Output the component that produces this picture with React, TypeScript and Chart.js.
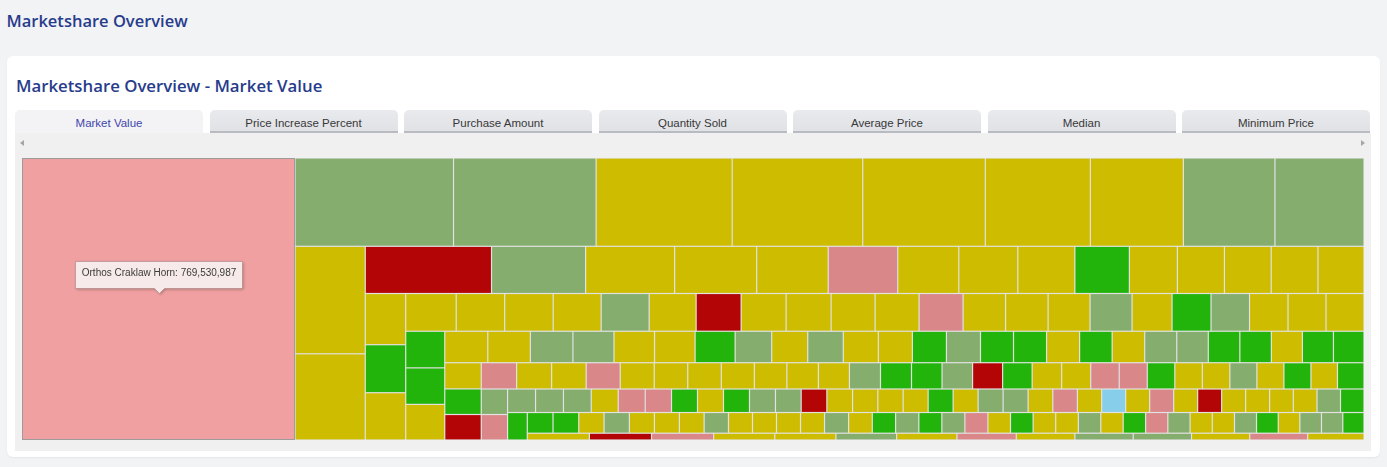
import React, { useEffect, useRef } from "react";
import { Chart, registerables } from "chart.js";

Chart.register(...registerables);

const PAGE_TITLE = "Marketshare Overview";
const CARD_TITLE = "Marketshare Overview - Market Value";
const TAB_LABELS = [
  "Market Value",
  "Price Increase Percent",
  "Purchase Amount",
  "Quantity Sold",
  "Average Price",
  "Median",
  "Minimum Price",
];
const ACTIVE_TAB = 0;
const HOVERED_INDEX = 0;
const HOVERED_NAME = "Orthos Craklaw Horn";

// Market value per item (sorted, largest first)
const marketValues: number[] = [
  769530987,
  139867000, 125828000, 120088000, 115232000, 108168000, 92715000, 82119000, 80795000, 78587000,
  75465000, 60512000,
  59566000, 44368000, 42008000, 38704000, 33748000, 32804000, 28792000, 27848000, 26904000, 25724000,
  22656000, 22184000, 22066000, 22066000, 21712000,
  20685000, 19392000, 19109000,
  19039000, 18285000, 18285000, 18096000, 18096000, 17719000, 16965000, 16965000, 16965000, 16588000,
  16588000, 16588000, 16023000, 16023000, 15834000, 15834000, 15080000, 14703000, 14515000, 14515000,
  14326000, 14326000,
  14300000, 14250000, 13900000,
  13545000, 13388000, 13388000, 12915000, 12758000, 12758000, 12600000, 11498000, 11340000, 11183000,
  11025000, 10710000, 10710000, 10710000, 10395000, 10395000, 10395000, 10238000, 10238000, 10080000,
  9923000, 9923000, 9923000, 9765000, 9765000, 9608000,
  9550000, 9350000, 9300000,
  9284000, 9205000, 9074000, 8942000, 8942000, 8811000, 8811000, 8679000, 8548000, 8285000,
  8153000, 8153000, 8153000, 8022000, 8022000, 7890000, 7759000, 7759000, 7627000, 7496000,
  7364000, 7233000, 7233000, 7233000, 7101000, 7101000, 7101000, 6970000, 6970000,
  6710000, 6700000,
  6580000, 6557000, 6533000, 6345000, 6345000, 6181000, 6110000, 6110000, 6110000, 6110000,
  6040000, 6040000, 6040000, 5946000, 5946000, 5875000, 5875000, 5875000, 5875000, 5875000,
  5805000, 5781000, 5711000, 5640000, 5640000, 5640000, 5640000, 5640000, 5640000, 5640000,
  5570000, 5570000, 5523000, 5523000,
  5418000,
  5320000, 5320000, 5237000, 5237000, 5175000, 5175000, 5113000, 5030000, 4968000, 4968000,
  4968000, 4968000, 4968000, 4906000, 4823000, 4802000, 4761000, 4761000, 4761000, 4678000,
  4678000, 4678000, 4678000, 4637000, 4637000, 4637000, 4595000, 4595000, 4595000, 4595000,
  4554000, 4492000, 4471000, 4471000, 4409000, 4388000,
  4216000,
  4216000, 4216000, 4148000, 4148000, 4121000, 4094000, 4026000, 3978000, 3958000, 3958000,
  3951000, 3930000, 3822000,
];

// Price trend class per item: Y flat, S slight rise, G strong rise, P slight fall, R strong fall, B new
const trendClasses: string[] = (
  "P" +
  "SSYYYYYSS" +
  "YY" +
  "RSYYYPYYYGYYYYY" +
  "YGY" +
  "YYYYSYRYYYYPYYYSYGSYYY" +
  "GGY" +
  "YYSSYYGSYSYYGSGGYGYSSGGYGG" +
  "YGR" +
  "PYYPYYYYYYYSGGSRGYYPPGYYSYGYG" +
  "SP" +
  "SSSYPPGYGSSRYYYYGYSSYPYBYPYRYYYYSG" +
  "G" +
  "GGYSYYYSYYYYSYGSGSPYGYYSYGPSYYSGYSSG" +
  "Y" +
  "RPYYSYPYSSYPY"
).split("");

const trendColors: Record<string, string> = {
  Y: "#cdbc00",
  S: "#84ad6e",
  G: "#22b40a",
  R: "#b30406",
  P: "#d98788",
  B: "#87ceeb",
};
const trendHoverColors: Record<string, string> = {
  Y: "#e0d240",
  S: "#a3c690",
  G: "#4ccc38",
  R: "#cc3030",
  P: "#f0a0a0",
  B: "#a8def2",
};

type Cell = { x0: number; y0: number; x1: number; y1: number };

// Squarified strips, alternating column / row, a strip grows while its newest item gets squarer
function squarify(values: number[], W: number, H: number): Cell[] {
  const order = values.map((v, i) => i).sort((a, b) => values[b] - values[a]);
  const total = values.reduce((a, b) => a + b, 0);
  const k = (W * H) / total;
  const cells: Cell[] = new Array(values.length);
  let x = 0, y = 0, w = W, h = H;
  let column = true;
  let i = 0;
  while (i < order.length) {
    const L = column ? h : w;
    let sum = 0;
    let prev = Infinity;
    let j = i;
    while (j < order.length) {
      const a = values[order[j]] * k;
      const s = sum + a;
      const t = s / L;
      const along = a / t;
      const asp = Math.max(along / t, t / along);
      if (asp > prev) break;
      prev = asp;
      sum = s;
      j++;
    }
    const t = sum / L;
    let pos = 0;
    for (let m = i; m < j; m++) {
      const along = (values[order[m]] * k) / t;
      cells[order[m]] = column
        ? { x0: x, y0: y + pos, x1: x + t, y1: y + pos + along }
        : { x0: x + pos, y0: y, x1: x + pos + along, y1: y + t };
      pos += along;
    }
    if (column) { x += t; w -= t; } else { y += t; h -= t; }
    column = !column;
    i = j;
  }
  return cells;
}

const treemapPlugin = {
  id: "treemapCells",
  afterDatasetsDraw(chart: any) {
    const { ctx, chartArea } = chart;
    const xs = chart.scales.x;
    const ys = chart.scales.y;
    const aspect = (chartArea.right - chartArea.left) / (chartArea.bottom - chartArea.top);
    const cells = squarify(marketValues, aspect, 1);
    ctx.save();
    ctx.fillStyle = "#e2e2e2";
    ctx.fillRect(chartArea.left, chartArea.top, chartArea.right - chartArea.left, chartArea.bottom - chartArea.top);
    const px = (c: Cell) => ({
      x0: xs.getPixelForValue(c.x0 / aspect),
      x1: xs.getPixelForValue(c.x1 / aspect),
      y0: ys.getPixelForValue(c.y0),
      y1: ys.getPixelForValue(c.y1),
    });
    cells.forEach((c, i) => {
      const p = px(c);
      const cls = trendClasses[i];
      const inset = 0.6;
      if (i === HOVERED_INDEX) {
        ctx.fillStyle = trendHoverColors[cls];
        ctx.fillRect(p.x0, p.y0, p.x1 - p.x0, p.y1 - p.y0);
        ctx.strokeStyle = "#9c9c9c";
        ctx.lineWidth = 1;
        ctx.strokeRect(Math.round(p.x0) + 0.5, Math.round(p.y0) + 0.5, Math.round(p.x1 - p.x0) - 1, Math.round(p.y1 - p.y0) - 1);
      } else {
        ctx.fillStyle = trendColors[cls];
        ctx.fillRect(p.x0 + inset, p.y0 + inset, p.x1 - p.x0 - 2 * inset, p.y1 - p.y0 - 2 * inset);
      }
    });

    // hover tooltip
    const hp = px(cells[HOVERED_INDEX]);
    const cx = (hp.x0 + hp.x1) / 2;
    const cy = (hp.y0 + hp.y1) / 2;
    const text = `${HOVERED_NAME}: ${marketValues[HOVERED_INDEX].toLocaleString("en-US")}`;
    ctx.font = '10px "Liberation Sans", Arial, sans-serif';
    const tw = ctx.measureText(text).width;
    const bw = Math.round(tw + 12);
    const bh = 27;
    const tipY = Math.round(cy - 6) + 0.5;
    const by1 = tipY - 5;
    const by0 = by1 - bh;
    const bx0 = Math.round(cx - bw / 2) + 0.5;
    const bx1 = bx0 + bw;
    const ax = Math.round(cx) + 0.5;
    ctx.beginPath();
    ctx.moveTo(bx0, by0);
    ctx.lineTo(bx1, by0);
    ctx.lineTo(bx1, by1);
    ctx.lineTo(ax + 5, by1);
    ctx.lineTo(ax, tipY);
    ctx.lineTo(ax - 5, by1);
    ctx.lineTo(bx0, by1);
    ctx.closePath();
    ctx.save();
    ctx.shadowColor = "rgba(0,0,0,0.28)";
    ctx.shadowBlur = 3;
    ctx.shadowOffsetX = 1;
    ctx.shadowOffsetY = 1;
    ctx.fillStyle = "#f7eaea";
    ctx.fill();
    ctx.restore();
    ctx.strokeStyle = "rgba(150,110,110,0.45)";
    ctx.lineWidth = 1;
    ctx.stroke();
    ctx.fillStyle = "#3a3a3a";
    ctx.textAlign = "center";
    ctx.textBaseline = "alphabetic";
    ctx.fillText(text, cx + 0.5, by0 + 14.5);
    ctx.restore();
  },
};

const titleFont = "'Open Sans', 'Noto Sans', sans-serif";
const tabFont = "'Liberation Sans', Arial, sans-serif";
const titleColor = "#283c8c";

export default function App() {
  const canvasRef = useRef<HTMLCanvasElement>(null);

  useEffect(() => {
    const canvas = canvasRef.current;
    if (!canvas) return;
    const chart = new Chart(canvas, {
      type: "scatter",
      data: { datasets: [{ label: "Market Value", data: [], pointRadius: 0 }] },
      options: {
        animation: false,
        responsive: false,
        maintainAspectRatio: false,
        events: [],
        layout: { padding: 0 },
        plugins: {
          legend: { display: false },
          tooltip: { enabled: false },
        },
        scales: {
          x: { type: "linear", min: 0, max: 1, display: false },
          y: { type: "linear", min: 0, max: 1, reverse: true, display: false },
        },
      },
      plugins: [treemapPlugin],
    } as any);
    return () => chart.destroy();
  }, []);

  return (
    <div
      style={{
        position: "absolute",
        left: 0,
        top: 0,
        width: 1387,
        height: 467,
        background: "#f2f3f5",
        overflow: "hidden",
      }}
    >
      <div
        style={{
          position: "absolute",
          left: 6.5,
          top: 8.5,
          fontFamily: titleFont,
          fontSize: 16.5,
          lineHeight: "24px",
          fontWeight: 600,
          color: titleColor,
          whiteSpace: "nowrap",
        }}
      >
        {PAGE_TITLE}
      </div>
      <div
        style={{
          position: "absolute",
          left: 7,
          top: 56,
          width: 1373,
          height: 401,
          background: "#ffffff",
          borderRadius: 6,
          boxShadow: "0 1px 2px rgba(0,0,0,0.06)",
        }}
      />
      <div
        style={{
          position: "absolute",
          left: 16,
          top: 73.5,
          fontFamily: titleFont,
          fontSize: 16.8,
          lineHeight: "24px",
          fontWeight: 600,
          color: titleColor,
          whiteSpace: "nowrap",
        }}
      >
        {CARD_TITLE}
      </div>
      <div
        style={{
          position: "absolute",
          left: 15,
          top: 133,
          width: 1356,
          height: 318,
          background: "#f0f0f0",
        }}
      />
      {TAB_LABELS.map((label, i) => {
        const active = i === ACTIVE_TAB;
        return (
          <div
            key={label}
            style={{
              position: "absolute",
              left: 15 + i * 194.5,
              top: 110,
              width: 188,
              height: 23,
              boxSizing: "border-box",
              borderRadius: "5px 5px 0 0",
              background: active ? "#f3f3f5" : "linear-gradient(#e9eaee, #e1e2e6)",
              borderBottom: active ? "none" : "2px solid #b9bbc2",
              fontFamily: tabFont,
              fontSize: 11.5,
              color: active ? "#3f46ad" : "#383838",
              display: "flex",
              alignItems: "center",
              justifyContent: "center",
              paddingTop: active ? 3 : 4,
              whiteSpace: "nowrap",
            }}
          >
            {label}
          </div>
        );
      })}
      <div
        style={{
          position: "absolute",
          left: 20,
          top: 139.5,
          width: 0,
          height: 0,
          borderTop: "3.5px solid transparent",
          borderBottom: "3.5px solid transparent",
          borderRight: "4px solid #a6a6a6",
        }}
      />
      <div
        style={{
          position: "absolute",
          left: 1361,
          top: 139.5,
          width: 0,
          height: 0,
          borderTop: "3.5px solid transparent",
          borderBottom: "3.5px solid transparent",
          borderLeft: "4px solid #a6a6a6",
        }}
      />
      <canvas
        ref={canvasRef}
        width={1342}
        height={282}
        style={{ position: "absolute", left: 22, top: 158, width: 1342, height: 282 }}
      />
    </div>
  );
}
